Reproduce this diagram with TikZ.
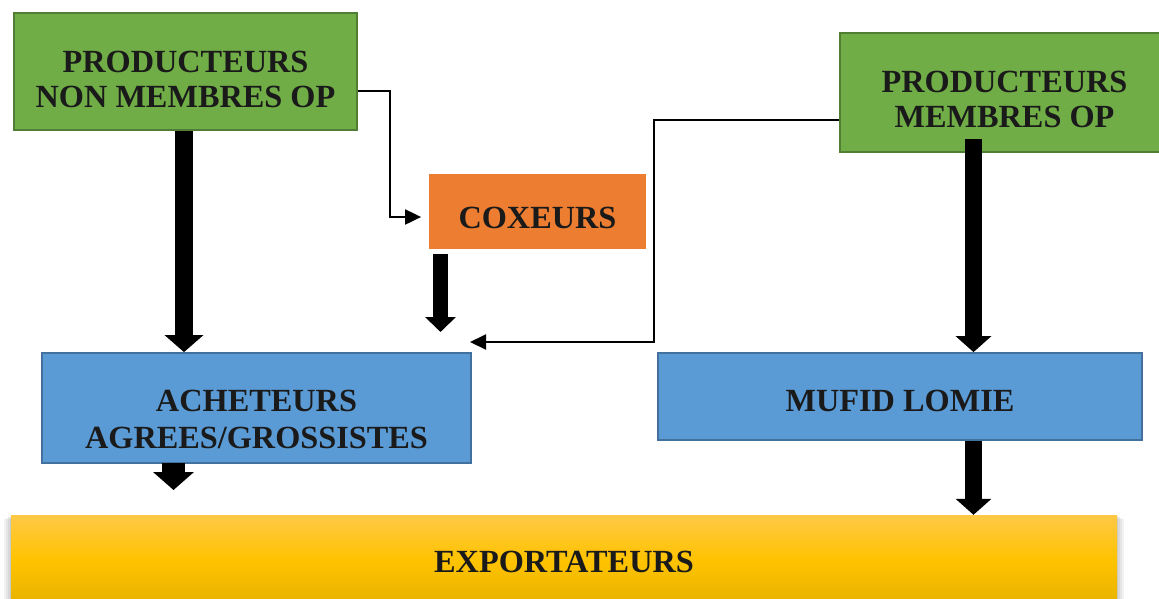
\documentclass[tikz,border=0pt]{standalone}
\usepackage{fontspec}
\setmainfont{Liberation Serif}
\usetikzlibrary{arrows.meta,calc}
\definecolor{gfill}{HTML}{70AD47}
\definecolor{gline}{HTML}{507E32}
\definecolor{bfill}{HTML}{5B9BD5}
\definecolor{bline}{HTML}{41719C}
\definecolor{ofill}{HTML}{ED7D31}
\definecolor{ytop}{HTML}{FFC846}
\definecolor{ymid}{HTML}{FFC300}
\definecolor{ybot}{HTML}{E6B200}
\definecolor{txt}{HTML}{1A1A1A}
\begin{document}
\begin{tikzpicture}[x=1pt,y=-1pt,
  box/.style={rectangle, inner sep=0pt, line width=1.8pt},
  greenbox/.style={box, fill=gfill, draw=gline},
  bluebox/.style={box, fill=bfill, draw=bline},
  orangebox/.style={box, fill=ofill},
  lbl/.style={font=\bfseries\fontsize{32.3}{35.5}\selectfont, text=txt, inner sep=0pt, anchor=base},
  thinarrow/.style={draw=black, line width=2pt, -{Triangle[length=16pt,width=15pt]}},
  bigarrow/.style={draw=black, line width=#1},
]
\useasboundingbox (0,0) rectangle (1159,598);

% shadow of the bottom box
\fill[black, opacity=0.05] (4,519) rectangle (1124,610);
\fill[black, opacity=0.05] (6,518) rectangle (1122,610);
\fill[black, opacity=0.06] (8,517) rectangle (1120,610);
\fill[black, opacity=0.07] (10,516) rectangle (1118,610);

% boxes
\node[greenbox, minimum width=343pt, minimum height=117pt] (pnm) at (185.5,71.5) {};
\node[greenbox, minimum width=329pt, minimum height=119pt] (pm) at (1004.5,92.5) {};
\node[orangebox, minimum width=217pt, minimum height=75pt] (cox) at (537.5,211.5) {};
\node[bluebox, minimum width=429pt, minimum height=110pt] (ach) at (256.5,408) {};
\node[bluebox, minimum width=484pt, minimum height=87pt] (muf) at (900,396.5) {};
\node[rectangle, inner sep=0pt, minimum width=1106pt, minimum height=90pt,
      top color=ytop, bottom color=ybot, middle color=ymid] (exp) at (564,560) {};

% labels
\node[lbl] (t1) at (185.5,72) {PRODUCTEURS};
\node[lbl] (t2) at (185.5,107) {NON MEMBRES OP};
\node[lbl] (t3) at (1004.5,92) {PRODUCTEURS};
\node[lbl] (t4) at (1004.5,127) {MEMBRES OP};
\node[lbl] (t5) at (537.5,228) {COXEURS};
\node[lbl] (t6) at (256.5,411) {ACHETEURS};
\node[lbl] (t7) at (256.5,448) {AGREES/GROSSISTES};
\node[lbl] (t8) at (900,411) {MUFID LOMIE};
\node[lbl] (t9) at (564,572) {EXPORTATEURS};

% free ends
\coordinate (coxtip) at (440.5,332);
\coordinate (achtip) at (173.5,490);
\coordinate (achin) at (470,342);

% thick arrows
\draw[bigarrow=18pt, -{Triangle[length=17pt,width=38pt]}]
  ([xshift=-1.5pt]pnm.south) -- ([xshift=-1.5pt]pnm.south |- ach.north);
\draw[bigarrow=15pt, -{Triangle[length=15pt,width=30pt]}]
  ([xshift=-97pt,yshift=-4pt]cox.south) -- (coxtip);
\draw[bigarrow=17pt, -{Triangle[length=16pt,width=35pt]}]
  ([xshift=-31pt,yshift=14pt]pm.south) -- ([xshift=-31pt]pm.south |- muf.north);
\draw[bigarrow=23pt, -{Triangle[length=18pt,width=40pt]}]
  ([xshift=-83pt,yshift=1pt]ach.south) -- (achtip);
\draw[bigarrow=17pt, -{Triangle[length=16pt,width=35pt]}]
  ([xshift=73.5pt]muf.south) -- ([xshift=73.5pt]muf.south |- exp.north);

% thin connectors
\draw[thinarrow] ([yshift=-19.5pt]pnm.east) -- ++(32,0) |- ([xshift=-7pt,yshift=-5.5pt]cox.west);
\draw[thinarrow] ([yshift=-27.5pt]pm.west) -- ++(-185,0) |- (achin);
\end{tikzpicture}
\end{document}
